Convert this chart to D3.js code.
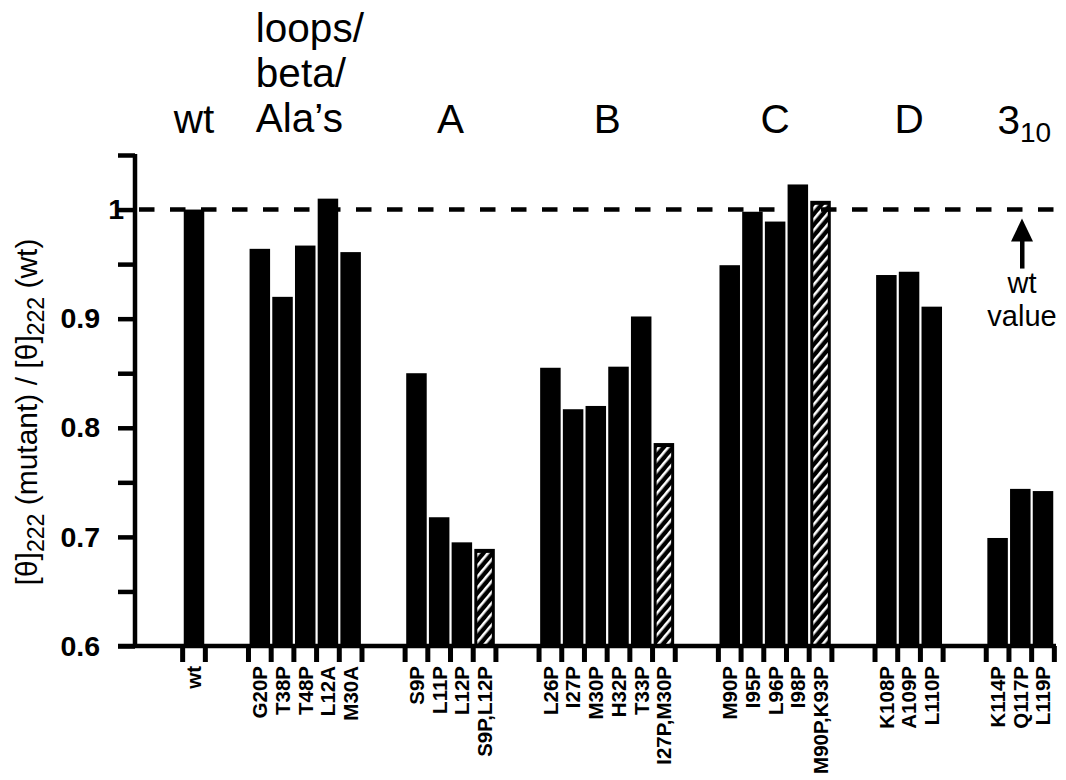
<!DOCTYPE html>
<html>
<head>
<meta charset="utf-8">
<script src="https://cdn.jsdelivr.net/npm/d3@7"></script>
<style>
  body { margin: 0; background: #fff; }
  svg { display: block; }
</style>
</head>
<body>
<svg id="chart" width="1066" height="780"></svg>
<script>
// Proline / alanine mutants, helix by helix
const groupLabels = ["wt", "loops/|beta/|Ala’s", "A", "B", "C", "D", "3_10"];
const mutants = [
  "wt",
  "G20P", "T38P", "T48P", "L12A", "M30A",
  "S9P", "L11P", "L12P", "S9P,L12P",
  "L26P", "I27P", "M30P", "H32P", "T33P", "I27P,M30P",
  "M90P", "I95P", "L96P", "I98P", "M90P,K93P",
  "K108P", "A109P", "L110P",
  "K114P", "Q117P", "L119P"
];
const mutantGroup = [
  0,
  1, 1, 1, 1, 1,
  2, 2, 2, 2,
  3, 3, 3, 3, 3, 3,
  4, 4, 4, 4, 4,
  5, 5, 5,
  6, 6, 6
];
// [θ]222(mutant) / [θ]222(wt)
const ellipticityRatio = [
  1.000,
  0.964, 0.920, 0.967, 1.010, 0.961,
  0.850, 0.718, 0.695, 0.689,
  0.855, 0.817, 0.820, 0.856, 0.902, 0.786,
  0.949, 0.998, 0.989, 1.023, 1.008,
  0.940, 0.943, 0.911,
  0.699, 0.744, 0.742
];
const doubleMutants = ["S9P,L12P", "I27P,M30P", "M90P,K93P"];
const yTickValues = [0.6, 0.65, 0.7, 0.75, 0.8, 0.85, 0.9, 0.95, 1.0, 1.05];
const yTickLabels = ["0.6", "", "0.7", "", "0.8", "", "0.9", "", "1", ""];
const wtReference = 1.0;

const svg = d3.select("#chart");
const black = "#000";

// slot position: one unit per bar, plus a spacer between groups
const groupSpacer = 1.9;
const bars = mutants.map((m, i) => ({
  name: m,
  group: mutantGroup[i],
  value: ellipticityRatio[i],
  pos: i + groupSpacer * mutantGroup[i],
  hatched: doubleMutants.includes(m)
}));

const x = d3.scaleLinear().domain([0, 37.4]).range([194, 1043]);
const y = d3.scaleLinear().domain([0.6, 1.05]).range([646, 155]);
const barW = 20.5;
const base = y(0.6);

// diagonal hatch for double mutants
const defs = svg.append("defs");
const pat = defs.append("pattern")
  .attr("id", "hatch")
  .attr("patternUnits", "userSpaceOnUse")
  .attr("width", 7).attr("height", 7)
  .attr("patternTransform", "rotate(40)");
pat.append("rect").attr("width", 7).attr("height", 7).attr("fill", black);
pat.append("rect").attr("width", 2.6).attr("height", 7).attr("fill", "#fff");

// bars
const barG = svg.append("g");
barG.selectAll("rect.bar")
  .data(bars)
  .join("rect")
  .attr("class", "bar")
  .attr("x", d => x(d.pos) - barW / 2)
  .attr("y", d => y(d.value))
  .attr("width", barW)
  .attr("height", d => base - y(d.value))
  .attr("fill", black);

barG.selectAll("rect.hatch")
  .data(bars.filter(d => d.hatched))
  .join("rect")
  .attr("class", "hatch")
  .attr("x", d => x(d.pos) - barW / 2 + 3)
  .attr("y", d => y(d.value) + 4)
  .attr("width", barW - 6)
  .attr("height", d => base - y(d.value) - 4)
  .attr("fill", "url(#hatch)");

// dashed wild-type reference line
svg.append("line")
  .attr("x1", 139).attr("x2", 1062)
  .attr("y1", y(wtReference)).attr("y2", y(wtReference))
  .attr("stroke", black)
  .attr("stroke-width", 4.5)
  .attr("stroke-dasharray", "15.5 15.5");

// y axis
const yAxis = d3.axisLeft(y)
  .tickValues(yTickValues)
  .tickSize(17)
  .tickSizeOuter(0)
  .tickPadding(18)
  .tickFormat((d, i) => yTickLabels[i]);

const yG = svg.append("g")
  .attr("transform", "translate(135,0)")
  .call(yAxis);
yG.select(".domain").attr("stroke", black).attr("stroke-width", 4.5)
  .attr("d", `M0,${y(1.05) - 1}V${base + 2}`);
yG.selectAll(".tick line").attr("stroke", black).attr("stroke-width", 4.5);
yG.selectAll(".tick text")
  .attr("fill", black)
  .style("font-family", "'Liberation Sans', Arial, sans-serif")
  .style("font-weight", "bold")
  .style("font-size", "28.5px");
yG.selectAll(".tick text").filter(d => d === 1).attr("x", -11);

// x axis baseline
svg.append("line")
  .attr("x1", 118).attr("x2", 1056)
  .attr("y1", base).attr("y2", base)
  .attr("stroke", black).attr("stroke-width", 4.5);

// tick marks at every bar boundary, hanging below the baseline
const boundaries = [];
d3.groups(bars, d => d.group).forEach(([, members]) => {
  members.forEach(m => boundaries.push(m.pos - 0.5));
  boundaries.push(members[members.length - 1].pos + 0.5);
});
svg.append("g").selectAll("rect")
  .data(boundaries)
  .join("rect")
  .attr("x", d => x(d) - 2.5)
  .attr("y", base)
  .attr("width", 5)
  .attr("height", 16)
  .attr("fill", black);

// mutant names, rotated
svg.append("g").selectAll("text")
  .data(bars)
  .join("text")
  .attr("transform", d => `translate(${x(d.pos)},${base + 20}) rotate(-90)`)
  .attr("text-anchor", "end")
  .attr("dy", "0.36em")
  .attr("fill", black)
  .style("font-family", "'Liberation Sans', Arial, sans-serif")
  .style("font-weight", "bold")
  .style("font-size", "20.5px")
  .text(d => d.name);

// group headings
const headFont = "'Liberation Sans', Arial, sans-serif";
const headG = svg.append("g")
  .style("font-family", headFont)
  .style("font-size", "40.5px")
  .attr("fill", black);
d3.groups(bars, d => d.group).forEach(([g, members]) => {
  const label = groupLabels[g];
  const first = members[0], last = members[members.length - 1];
  const cx = (x(first.pos) + x(last.pos)) / 2;
  if (label.includes("|")) {
    const lines = label.split("|");
    const t = headG.append("text")
      .attr("x", x(first.pos) - 4)
      .attr("y", 132 - 45 * (lines.length - 1))
      .attr("text-anchor", "start");
    lines.forEach((ln, k) => {
      t.append("tspan").attr("x", x(first.pos) - 4).attr("dy", k === 0 ? 0 : 45).text(ln);
    });
  } else if (label.includes("_")) {
    const [main, sub] = label.split("_");
    const t = headG.append("text").attr("x", cx + 4).attr("y", 134).attr("text-anchor", "middle");
    t.append("tspan").text(main);
    t.append("tspan").attr("dy", 8).style("font-size", "28px").text(sub);
  } else {
    headG.append("text").attr("x", cx).attr("y", 133)
      .attr("text-anchor", "middle").text(label);
  }
});

// y axis title
const title = svg.append("text")
  .attr("transform", "translate(37,412) rotate(-90)")
  .attr("text-anchor", "middle")
  .attr("fill", black)
  .style("font-family", headFont)
  .style("font-size", "30px");
title.append("tspan").text("[θ]");
title.append("tspan").attr("dy", 7).style("font-size", "23px").text("222");
title.append("tspan").attr("dy", -7).text(" (mutant) / [θ]");
title.append("tspan").attr("dy", 7).style("font-size", "23px").text("222");
title.append("tspan").attr("dy", -7).text(" (wt)");

// "wt value" pointer
const ax = 1022;
const arrowTop = y(wtReference) + 9;
svg.append("path")
  .attr("d", `M${ax},${arrowTop}L${ax - 11},${arrowTop + 23}L${ax + 11},${arrowTop + 23}Z`)
  .attr("fill", black);
svg.append("rect")
  .attr("x", ax - 2).attr("y", arrowTop + 20)
  .attr("width", 4.5).attr("height", 30)
  .attr("fill", black);
const noteStyle = sel => sel
  .attr("text-anchor", "middle")
  .attr("fill", black)
  .style("font-family", headFont)
  .style("font-size", "29px");
svg.append("text").call(noteStyle)
  .attr("x", ax).attr("y", arrowTop + 74).text("wt");
svg.append("text").call(noteStyle)
  .attr("x", ax).attr("y", arrowTop + 107).text("value");
</script>
</body>
</html>
